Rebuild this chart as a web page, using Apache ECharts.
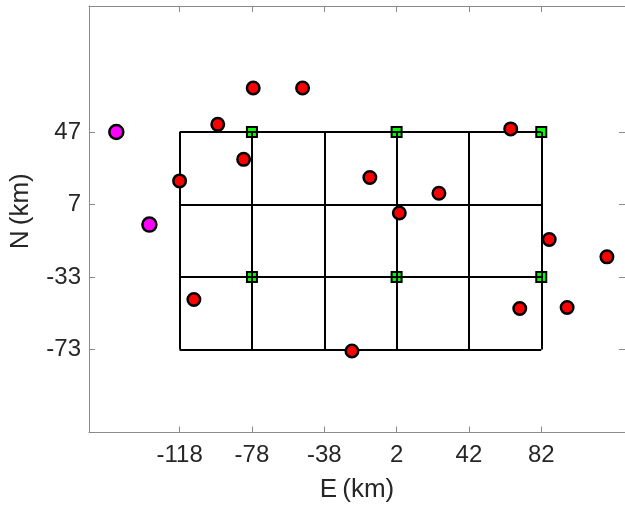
<!DOCTYPE html>
<html>
<head>
<meta charset="utf-8">
<script src="https://cdn.jsdelivr.net/npm/echarts@6/dist/echarts.min.js"></script>
<style>
html,body{margin:0;padding:0;background:#fff;}
#chart{width:625px;height:511px;}
</style>
</head>
<body>
<div id="chart"></div>
<script>
// Tick labels
const xTicks = [-118, -78, -38, 2, 42, 82];
const yTicks = [47, 7, -33, -73];

// Red stations
const redE = [-77.3, -50.0, -96.9, 65.1, -82.6, -118.0, -12.8, 25.4, 3.5, 86.4, 118.3, -110.1, 70.1, 96.3, -22.7];
const redN = [71.3, 71.3, 51.2, 48.7, 31.9, 20.0, 21.9, 13.2, 2.3, -12.3, -21.9, -45.4, -50.4, -49.8, -73.8];

// Magenta stations
const magE = [-153.0, -134.7];
const magN = [47.0, -4.1];

// Green squares
const greenE = [-78, 2, 82, -78, 2, 82];
const greenN = [47, 47, 47, -33, -33, -33];

const xMin = -168.1, xMax = 128.3;
const yMin = -118.8, yMax = 116.5;

const zip = (a, b) => a.map((v, i) => [v, b[i]]);

const gridLines = [];
const yLo = Math.min(...yTicks), yHi = Math.max(...yTicks);
const xLo = Math.min(...xTicks), xHi = Math.max(...xTicks);
xTicks.forEach(x => gridLines.push({coords: [[x, yLo], [x, yHi]]}));
yTicks.forEach(y => gridLines.push({coords: [[xLo, y], [xHi, y]]}));

const axisColor = '#8a8a8a';
const labelColor = '#262626';
const font = 'Liberation Sans, Arial, Helvetica, sans-serif';

const chart = echarts.init(document.getElementById('chart'), null, {renderer: 'canvas'});
chart.setOption({
  animation: false,
  backgroundColor: '#ffffff',
  grid: {left: 89, top: 6, width: 537, height: 426.5, containLabel: false},
  xAxis: [{
    type: 'value', min: xMin, max: xMax, position: 'bottom',
    name: 'E\u2009(km)', nameLocation: 'middle', nameGap: 44,
    nameTextStyle: {fontFamily: font, fontSize: 26, color: labelColor},
    axisLine: {show: true, onZero: false, lineStyle: {color: axisColor, width: 1}},
    axisTick: {show: true, inside: true, length: 6, customValues: xTicks, lineStyle: {color: axisColor}},
    axisLabel: {customValues: xTicks, fontFamily: font, fontSize: 24, color: labelColor, margin: 11},
    splitLine: {show: false}
  }, {
    type: 'value', min: xMin, max: xMax, position: 'top',
    axisLine: {show: true, onZero: false, lineStyle: {color: axisColor, width: 1}},
    axisTick: {show: true, inside: true, length: 6, customValues: xTicks, lineStyle: {color: axisColor}},
    axisLabel: {show: false},
    splitLine: {show: false}
  }],
  yAxis: [{
    type: 'value', min: yMin, max: yMax, position: 'left',
    name: 'N\u2009(km)', nameLocation: 'middle', nameGap: 55, nameRotate: 90,
    nameTextStyle: {fontFamily: font, fontSize: 26, color: labelColor, padding: [0, 0, 0, 16]},
    axisLine: {show: true, onZero: false, lineStyle: {color: axisColor, width: 1}},
    axisTick: {show: true, inside: true, length: 6, customValues: yTicks, lineStyle: {color: axisColor}},
    axisLabel: {customValues: yTicks, fontFamily: font, fontSize: 24, color: labelColor, margin: 8},
    splitLine: {show: false}
  }, {
    type: 'value', min: yMin, max: yMax, position: 'right',
    axisLine: {show: true, onZero: false, lineStyle: {color: axisColor, width: 1}},
    axisTick: {show: true, inside: true, length: 6, customValues: yTicks, lineStyle: {color: axisColor}},
    axisLabel: {show: false},
    splitLine: {show: false}
  }],
  series: [
    {
      type: 'scatter', name: 'grid', data: zip(greenE, greenN),
      symbol: 'rect', symbolSize: 10, z: 2,
      itemStyle: {color: '#00ff00', borderColor: '#000', borderWidth: 2, opacity: 1}
    },
    {
      type: 'lines', coordinateSystem: 'cartesian2d', data: gridLines, z: 3,
      lineStyle: {color: '#000', width: 2, opacity: 1}, silent: true
    },
    {
      type: 'scatter', name: 'red', data: zip(redE, redN),
      symbol: 'circle', symbolSize: 12.5, z: 4,
      itemStyle: {color: '#ff0000', borderColor: '#000', borderWidth: 2.5, opacity: 1}
    },
    {
      type: 'scatter', name: 'magenta', data: zip(magE, magN),
      symbol: 'circle', symbolSize: 14, z: 4,
      itemStyle: {color: '#ff00ff', borderColor: '#000', borderWidth: 2.5, opacity: 1}
    }
  ]
});
</script>
</body>
</html>
